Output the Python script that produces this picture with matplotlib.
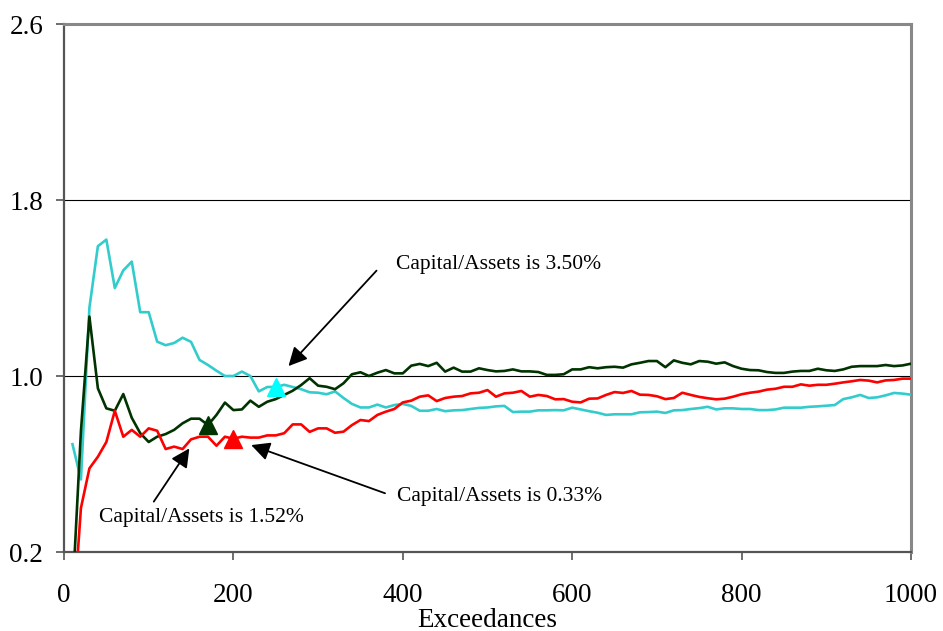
import numpy as np
import matplotlib.pyplot as plt

plt.rcParams['font.family'] = ['Liberation Serif', 'DejaVu Serif']

# Number of exceedances, every 10 up to 1000
exceedances = list(range(10, 1001, 10))

# Ratio series for each capital/assets level
ratio_350 = [0.69, 0.53, 1.31, 1.59, 1.62, 1.40, 1.48, 1.52, 1.29, 1.29,
             1.156, 1.14, 1.15, 1.174, 1.155, 1.073, 1.05, 1.024, 1.00, 1.00,
             1.02, 1.00, 0.93, 0.95, 0.95, 0.96, 0.95, 0.94, 0.926, 0.924,
             0.917, 0.93, 0.90, 0.873, 0.857, 0.857, 0.87, 0.857, 0.868, 0.873,
             0.864, 0.842, 0.842, 0.85, 0.84, 0.844, 0.845, 0.85, 0.855, 0.857,
             0.862, 0.864, 0.836, 0.838, 0.838, 0.844, 0.844, 0.845, 0.844, 0.856,
             0.848, 0.84, 0.833, 0.823, 0.826, 0.826, 0.826, 0.835, 0.836, 0.838,
             0.832, 0.844, 0.845, 0.85, 0.854, 0.86, 0.848, 0.853, 0.853, 0.85,
             0.85, 0.845, 0.845, 0.848, 0.856, 0.856, 0.856, 0.86, 0.862, 0.865,
             0.868, 0.895, 0.903, 0.914, 0.90, 0.903, 0.912, 0.923, 0.92, 0.915]

ratio_152 = [0.0, 0.75, 1.27, 0.944, 0.853, 0.842, 0.918, 0.81, 0.74, 0.70,
             0.724, 0.736, 0.755, 0.785, 0.806, 0.806, 0.777, 0.823, 0.879, 0.845,
             0.848, 0.888, 0.86, 0.883, 0.895, 0.914, 0.933, 0.959, 0.99, 0.956,
             0.951, 0.94, 0.967, 1.008, 1.017, 1.0, 1.015, 1.027, 1.012, 1.012,
             1.047, 1.055, 1.045, 1.06, 1.02, 1.038, 1.02, 1.02, 1.035, 1.027,
             1.021, 1.023, 1.03, 1.021, 1.021, 1.018, 1.005, 1.005, 1.008, 1.03,
             1.03, 1.04, 1.035, 1.04, 1.042, 1.038, 1.053, 1.06, 1.068, 1.068,
             1.04, 1.071, 1.06, 1.053, 1.068, 1.065, 1.056, 1.062, 1.045, 1.033,
             1.027, 1.026, 1.018, 1.014, 1.014, 1.02, 1.023, 1.023, 1.033, 1.026,
             1.023, 1.03, 1.042, 1.045, 1.045, 1.045, 1.05, 1.045, 1.048, 1.056]

ratio_033 = [-0.15, 0.40, 0.58, 0.633, 0.70, 0.842, 0.724, 0.755, 0.724, 0.762,
             0.751, 0.668, 0.679, 0.668, 0.712, 0.724, 0.724, 0.683, 0.724, 0.715,
             0.724, 0.72, 0.72, 0.73, 0.73, 0.74, 0.78, 0.78, 0.746, 0.762,
             0.762, 0.742, 0.747, 0.777, 0.80, 0.795, 0.823, 0.838, 0.85, 0.88,
             0.888, 0.906, 0.912, 0.886, 0.90, 0.906, 0.909, 0.921, 0.924, 0.936,
             0.906, 0.921, 0.924, 0.932, 0.906, 0.914, 0.909, 0.894, 0.895, 0.883,
             0.88, 0.897, 0.898, 0.914, 0.927, 0.923, 0.932, 0.915, 0.914, 0.908,
             0.895, 0.90, 0.924, 0.914, 0.905, 0.899, 0.894, 0.897, 0.906, 0.917,
             0.924, 0.929, 0.938, 0.942, 0.951, 0.951, 0.962, 0.956, 0.96, 0.96,
             0.965, 0.971, 0.976, 0.982, 0.979, 0.971, 0.98, 0.982, 0.988, 0.988]

# Highlighted exceedance for each series
mark_350 = 250
mark_152 = 170
mark_033 = 200

fig = plt.figure(figsize=(9.43, 6.31), dpi=100)
ax = fig.add_axes([64/943, 1 - 552/631, (911 - 64)/943, (552 - 24)/631])

ax.plot(exceedances, ratio_350, color='#33CCCC', lw=1.9, zorder=3)
ax.plot(exceedances, ratio_152, color='#003300', lw=1.9, zorder=4)
ax.plot(exceedances, ratio_033, color='#FF0000', lw=1.9, zorder=5)

# triangles on the highlighted points
ax.plot(mark_350, ratio_350[exceedances.index(mark_350)], marker='^', color='#00FFFF', ms=13, zorder=6)
ax.plot(mark_152, ratio_152[exceedances.index(mark_152)], marker='^', color='#003300', ms=13, zorder=6)
ax.plot(mark_033, ratio_033[exceedances.index(mark_033)], marker='^', color='#FF0000', ms=13, zorder=6)

ax.set_xlim(0, 1000)
ax.set_ylim(0.2, 2.6)
ax.set_xticks([0, 200, 400, 600, 800, 1000])
ax.set_yticks([0.2, 1.0, 1.8, 2.6])
ax.set_yticklabels(['0.2', '1.0', '1.8', '2.6'])

for yv in [1.0, 1.8]:
    ax.axhline(yv, color='black', lw=0.8, zorder=1)

ax.tick_params(axis='both', direction='out', length=6, width=1.2, color='#555555', labelsize=19.5)
ax.tick_params(axis='y', pad=9)
ax.tick_params(axis='x', pad=16)

ax.spines['left'].set_color('#555555')
ax.spines['bottom'].set_color('#555555')
ax.spines['left'].set_linewidth(1.6)
ax.spines['bottom'].set_linewidth(1.6)
ax.spines['top'].set_color('#888888')
ax.spines['right'].set_color('#888888')
ax.spines['top'].set_linewidth(2.2)
ax.spines['right'].set_linewidth(2.2)

ax.set_xlabel('Exceedances', fontsize=19.5, labelpad=0)

arrow = dict(arrowstyle='-|>', color='black', lw=1.3, mutation_scale=28, shrinkA=0, shrinkB=0)
ax.annotate('', xy=(265, 1.045), xytext=(369, 1.479), arrowprops=arrow)
ax.annotate('', xy=(221, 0.686), xytext=(379, 0.467), arrowprops=arrow)
ax.annotate('', xy=(148, 0.671), xytext=(106, 0.429), arrowprops=arrow)

ax.text(392, 1.505, 'Capital/Assets is 3.50%', fontsize=15.5, va='center', ha='left')
ax.text(393, 0.451, 'Capital/Assets is 0.33%', fontsize=15.5, va='center', ha='left')
ax.text(41, 0.355, 'Capital/Assets is 1.52%', fontsize=15.5, va='center', ha='left')

plt.savefig('out.png', dpi=100)
